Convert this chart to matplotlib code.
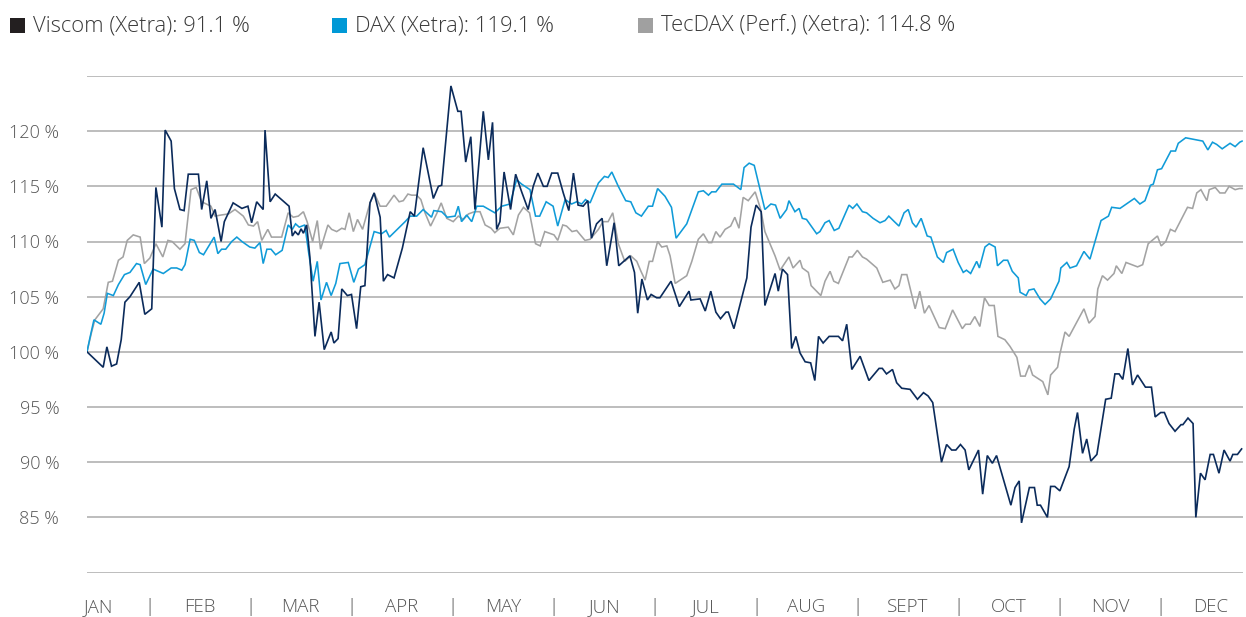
import numpy as np
import matplotlib
matplotlib.use("Agg")
import matplotlib.pyplot as plt
from matplotlib.patches import Rectangle
from matplotlib.transforms import blended_transform_factory

plt.rcParams['font.family'] = ['Open Sans', 'DejaVu Sans']

# ---------------- data (trading day index, indexed performance in %) ----------------
months = ["JAN", "FEB", "MAR", "APR", "MAY", "JUN", "JUL", "AUG", "SEPT", "OCT", "NOV", "DEC"]
legend_labels = ["Viscom (Xetra): 91.1 %", "DAX (Xetra): 119.1 %", "TecDAX (Perf.) (Xetra): 114.8 %"]
ytick_values = [80, 85, 90, 95, 100, 105, 110, 115, 120, 125]
ytick_labels = ["", "85 %", "90 %", "95 %", "100 %", "105 %", "110 %", "115 %", "120 %", ""]

viscom_day = [0, 3.5, 4.3, 5.3, 6.4, 7.4, 8.2, 9.3, 11.3, 12.5, 14.0, 14.9, 16.2, 16.9, 18.2, 18.9,
              20.1, 21.0, 21.9, 24.1, 24.8, 25.9, 26.8, 27.7, 29.0, 29.7, 31.6, 33.5, 34.8, 35.6,
              36.7, 38.1, 38.5, 39.6, 40.7, 43.7, 44.4, 45.0, 45.7, 46.3, 46.8, 47.5, 48.2, 49.3,
              50.2, 51.3, 52.8, 53.4, 54.3, 55.1, 56.3, 57.2, 58.3, 59.2, 60.1, 61.2, 62.1, 63.4,
              64.1, 65.0, 66.4, 68.2, 69.9, 70.8, 72.7, 74.9, 76.0, 76.7, 78.7, 80.2, 80.9, 81.9,
              83.0, 83.9, 85.7, 86.8, 87.7, 88.6, 89.3, 90.2, 91.6, 92.7, 94.0, 95.4, 96.5, 97.5,
              98.7, 99.5, 100.5, 101.8, 103.0, 104.2, 105.2, 106.2, 107.3, 108.3, 109.1, 110.2,
              111.4, 112.4, 114.0, 115.0, 117.4, 118.4, 119.1, 120.0, 121.2, 122.0, 123.2, 123.9,
              126.3, 128.1, 130.2, 130.6, 132.6, 133.7, 134.9, 136.0, 137.0, 138.2, 138.7, 139.9,
              142.7, 143.6, 144.7, 145.8, 146.6, 148.8, 149.5, 150.4, 151.5, 152.4, 153.3, 154.2,
              155.3, 156.5, 157.4, 158.2, 159.2, 160.5, 162.5, 163.4, 164.3, 165.4, 167.2, 169.1,
              171.3, 172.0, 172.9, 174.2, 175.1, 176.2, 178.0, 179.6, 180.9, 181.9, 182.9, 184.8,
              185.9, 187.0, 187.9, 188.9, 189.9, 190.7, 192.8, 193.7, 194.7, 195.8, 196.7, 199.8,
              200.7, 201.6, 202.1, 203.8, 204.9, 205.5, 206.2, 207.7, 208.4, 209.3, 210.4, 212.4,
              213.5, 214.2, 215.3, 216.2, 217.1, 218.4, 220.3, 221.5, 222.3, 223.2, 224.0, 225.1,
              226.1, 227.2, 228.9, 230.2, 231.0, 232.2, 233.0, 234.0, 235.3, 236.6, 237.0, 238.1,
              239.2, 239.8, 240.8, 241.8, 242.9, 243.6, 244.8, 245.9, 247.2, 247.8, 248.8, 249.7]
viscom_val = [100.0, 98.6, 100.45, 98.7, 98.9, 101.1, 104.5, 105.0, 106.3, 103.4, 103.9, 114.9, 111.3,
              120.1, 119.1, 114.8, 112.9, 112.8, 116.1, 116.1, 112.9, 115.5, 112.1, 112.9, 110.0,
              111.8, 113.5, 113.0, 113.2, 111.7, 113.6, 112.9, 120.1, 113.6, 114.3, 113.2, 110.5,
              110.9, 110.6, 111.15, 110.75, 111.5, 108.6, 101.4, 104.5, 100.2, 101.8, 100.8, 101.2,
              105.7, 105.1, 105.2, 102.1, 105.9, 106.0, 113.5, 114.4, 112.2, 106.4, 107.0, 106.7,
              109.4, 112.7, 112.3, 118.5, 113.9, 115.0, 115.1, 124.1, 121.8, 121.8, 117.2, 119.5,
              112.9, 121.8, 117.4, 120.8, 111.1, 111.8, 116.3, 112.9, 116.1, 114.5, 112.9, 115.0,
              116.2, 115.0, 115.0, 116.2, 116.2, 114.4, 112.8, 116.2, 113.3, 113.2, 113.7, 110.3,
              111.6, 112.1, 107.8, 111.7, 107.8, 108.7, 107.2, 103.5, 106.6, 104.7, 105.2, 104.9,
              104.9, 106.4, 104.1, 105.5, 104.7, 104.8, 103.7, 105.5, 103.6, 103.0, 103.6, 103.6,
              102.1, 106.7, 111.3, 113.3, 112.7, 104.2, 107.1, 105.5, 107.5, 107.0, 100.3, 101.4,
              99.9, 99.1, 99.0, 97.4, 101.4, 100.8, 101.4, 101.4, 101.0, 102.5, 98.4, 99.6, 97.4,
              98.5, 98.5, 98.0, 98.4, 97.2, 96.7, 96.6, 95.7, 96.3, 96.0, 95.4, 90.0, 91.6, 91.1,
              91.1, 91.6, 91.1, 89.3, 91.1, 87.1, 90.6, 89.9, 90.6, 86.1, 87.7, 88.3, 84.5, 87.7,
              87.7, 86.1, 86.1, 85.0, 87.8, 87.8, 87.4, 89.6, 93.0, 94.5, 90.8, 92.1, 90.1, 90.7,
              95.7, 95.8, 98.0, 98.0, 97.5, 100.3, 97.0, 97.9, 96.8, 96.8, 94.1, 94.5, 94.5, 93.5,
              92.8, 93.4, 93.4, 94.0, 93.5, 85.0, 89.0, 88.4, 90.7, 90.7, 89.0, 91.1, 90.1, 90.7,
              90.7, 91.2]

dax_day = [0, 0.6, 1.5, 3.0, 3.7, 4.4, 5.7, 6.8, 8.1, 9.3, 10.7, 11.5, 12.7, 14.3, 16.5, 18.2, 19.4,
           20.5, 21.2, 22.3, 23.2, 24.3, 25.2, 27.5, 28.3, 29.1, 30.0, 31.3, 32.4, 33.5, 35.2, 36.3,
           37.4, 38.1, 38.9, 39.8, 40.8, 42.2, 43.5, 44.4, 45.1, 45.9, 47.1, 48.0, 48.9, 49.8, 50.6,
           51.8, 52.8, 53.8, 54.7, 56.5, 57.7, 58.7, 60.1, 62.1, 63.7, 64.7, 65.4, 68.8, 69.9, 71.3,
           72.7, 74.5, 75.0, 76.7, 77.9, 79.6, 80.3, 81.0, 82.1, 83.2, 84.3, 85.7, 88.2, 89.7, 91.5,
           92.9, 94.0, 95.8, 97.0, 97.9, 99.3, 100.8, 101.8, 103.4, 104.8, 105.9, 107.0, 107.8,
           108.8, 110.6, 111.9, 112.7, 113.5, 114.9, 116.5, 117.6, 118.7, 119.9, 121.4, 122.3,
           123.4, 125.0, 126.4, 127.4, 129.7, 132.2, 133.3, 134.4, 135.1, 136.0, 137.3, 138.7,
           139.8, 141.4, 142.1, 143.2, 144.3, 146.6, 147.9, 148.9, 149.9, 151.3, 151.8, 153.1,
           154.0, 154.7, 155.6, 157.8, 158.5, 159.6, 160.5, 161.6, 162.6, 164.8, 165.6, 166.5,
           167.7, 168.6, 170.0, 171.5, 172.6, 173.4, 174.6, 175.6, 176.7, 177.6, 178.5, 179.3,
           180.4, 181.7, 182.5, 183.9, 185.2, 185.9, 187.3, 188.4, 189.5, 190.2, 191.1, 192.4,
           193.0, 194.2, 195.1, 196.4, 196.9, 198.2, 199.1, 200.1, 201.4, 201.8, 203.1, 203.7,
           204.8, 206.1, 207.2, 208.4, 210.2, 210.6, 211.9, 212.6, 214.0, 215.6, 216.9, 219.3,
           220.9, 221.6, 223.4, 226.5, 227.7, 228.8, 230.0, 230.6, 231.5, 232.4, 234.4, 235.4,
           236.0, 237.6, 241.3, 242.4, 243.4, 244.3, 245.5, 247.2, 248.3, 249.3, 249.8]
dax_val = [100.0, 101.2, 102.9, 102.5, 103.5, 105.3, 105.1, 106.1, 107.0, 107.2, 108.0, 107.9, 106.1,
           107.5, 107.1, 107.6, 107.6, 107.4, 107.9, 110.2, 110.1, 109.0, 108.8, 110.4, 108.9, 109.3,
           109.3, 110.0, 110.4, 110.0, 109.5, 109.4, 109.9, 108.0, 109.3, 109.3, 108.8, 109.2, 111.5,
           111.1, 111.6, 111.3, 111.5, 108.8, 106.4, 108.2, 104.7, 106.3, 105.1, 106.2, 108.0, 108.1,
           106.3, 107.5, 107.9, 110.9, 110.7, 111.0, 110.4, 111.8, 112.3, 112.3, 112.9, 112.2, 112.8,
           112.7, 112.2, 112.3, 113.2, 111.8, 112.4, 111.8, 113.2, 113.2, 112.6, 113.2, 113.4, 115.6,
           115.2, 114.7, 112.3, 112.3, 113.6, 113.2, 111.4, 113.8, 113.4, 113.6, 113.4, 113.8, 113.5,
           115.3, 115.9, 115.8, 116.3, 115.0, 113.7, 113.6, 112.6, 112.3, 113.2, 113.2, 114.8, 114.1,
           113.1, 110.3, 111.6, 114.5, 114.6, 114.2, 114.5, 114.5, 115.2, 115.2, 115.2, 114.7, 116.7,
           117.1, 116.9, 112.9, 113.4, 113.3, 112.1, 112.9, 113.7, 112.7, 113.0, 112.1, 112.0, 110.7,
           110.9, 111.7, 111.9, 111.0, 111.2, 113.3, 113.0, 113.4, 112.7, 112.6, 112.1, 111.7, 111.9,
           112.3, 111.8, 111.4, 112.6, 112.9, 111.7, 111.3, 112.1, 110.5, 110.4, 108.6, 108.1, 109.0,
           109.3, 108.1, 107.2, 107.4, 107.1, 108.2, 107.6, 109.5, 109.8, 109.5, 107.8, 108.3, 108.3,
           107.3, 106.7, 105.4, 105.1, 105.6, 105.7, 104.8, 104.3, 104.8, 106.4, 107.6, 108.1, 107.6,
           107.8, 109.1, 108.4, 111.9, 112.3, 113.1, 113.0, 113.9, 113.4, 113.7, 115.1, 115.2, 116.5,
           116.6, 118.2, 118.2, 118.9, 119.4, 119.1, 118.3, 119.0, 118.8, 118.4, 118.9, 118.6, 119.0,
           119.1]

tecdax_day = [0, 1.0, 1.7, 3.5, 4.6, 5.5, 6.8, 7.8, 8.7, 10.0, 11.5, 12.4, 13.6, 14.9, 16.4, 17.5,
              18.4, 20.1, 21.2, 22.5, 23.6, 24.8, 26.8, 27.7, 29.0, 30.6, 32.0, 33.8, 34.9, 36.0,
              36.9, 37.8, 39.1, 39.9, 42.1, 43.5, 44.6, 45.7, 46.8, 47.6, 48.8, 49.8, 50.5, 52.1,
              52.9, 54.0, 55.1, 55.8, 56.7, 57.6, 58.5, 59.6, 61.2, 62.1, 63.4, 64.7, 66.4, 67.5,
              68.4, 69.4, 70.2, 71.3, 72.2, 73.1, 74.3, 75.6, 76.6, 77.8, 79.2, 80.3, 81.4, 82.5,
              83.8, 85.0, 86.1, 87.4, 88.2, 89.3, 91.1, 92.2, 93.3, 94.4, 95.7, 97.0, 98.0, 99.0,
              101.0, 101.8, 102.9, 103.7, 104.9, 105.9, 107.7, 108.8, 110.6, 111.6, 112.7, 113.7,
              114.9, 116.3, 117.6, 118.9, 119.8, 120.7, 121.6, 122.3, 123.4, 124.3, 125.4, 126.1,
              127.2, 129.7, 130.8, 132.2, 133.3, 134.4, 135.1, 136.0, 136.9, 138.0, 139.2, 140.1,
              141.0, 141.9, 143.0, 144.5, 145.7, 146.6, 148.8, 149.9, 151.8, 152.7, 154.2, 154.7,
              156.0, 156.6, 158.7, 159.6, 160.7, 161.5, 162.5, 164.8, 165.5, 166.6, 167.7, 168.6,
              170.8, 172.1, 173.7, 174.7, 175.6, 176.2, 177.3, 179.1, 180.1, 181.1, 182.1, 184.3,
              185.6, 187.2, 189.3, 190.0, 191.0, 192.0, 193.1, 194.1, 195.1, 196.2, 197.0, 198.5,
              199.6, 201.1, 201.9, 202.9, 203.8, 204.5, 206.7, 207.8, 208.4, 209.9, 210.4, 211.5,
              212.4, 215.6, 216.7, 218.0, 218.6, 219.6, 220.7, 222.1, 222.6, 223.8, 224.7, 227.2,
              228.3, 229.5, 231.5, 232.3, 233.3, 234.3, 235.3, 238.0, 239.1, 240.0, 240.9, 242.2,
              242.7, 244.0, 245.0, 246.1, 247.0, 248.3, 249.2, 249.8]
tecdax_val = [100.0, 101.8, 102.9, 103.9, 106.3, 106.4, 108.3, 108.6, 110.1, 110.6, 110.4, 108.0,
              108.5, 109.8, 108.6, 110.1, 110.0, 109.3, 109.8, 114.7, 114.9, 113.6, 113.2, 112.3,
              112.4, 112.5, 112.9, 112.3, 111.5, 111.4, 111.8, 110.1, 111.1, 110.4, 110.4, 112.6,
              112.2, 112.3, 112.7, 111.8, 110.0, 111.9, 109.3, 111.5, 111.1, 110.9, 111.2, 111.1,
              112.6, 110.9, 112.0, 111.1, 113.5, 114.4, 113.2, 113.2, 114.2, 113.6, 113.7, 114.3,
              114.2, 114.2, 113.8, 112.6, 111.4, 112.5, 113.5, 112.1, 111.8, 112.3, 112.0, 112.5,
              112.7, 112.7, 111.5, 111.2, 110.8, 111.2, 111.3, 110.6, 112.4, 113.1, 112.6, 109.8,
              109.6, 110.9, 110.6, 110.1, 111.5, 111.4, 110.9, 111.0, 110.1, 110.2, 111.1, 111.8,
              111.8, 112.6, 109.8, 108.2, 108.7, 108.2, 107.3, 106.5, 108.2, 108.2, 110.0, 109.5,
              109.6, 108.7, 106.2, 106.9, 108.2, 110.2, 110.7, 109.9, 109.9, 110.9, 110.4, 111.1,
              111.4, 112.2, 111.2, 114.0, 113.7, 114.5, 112.9, 110.9, 108.7, 107.4, 108.6, 107.6,
              108.3, 107.6, 107.2, 106.0, 105.1, 106.4, 107.3, 106.4, 106.2, 108.6, 108.6, 109.2,
              108.6, 108.4, 107.6, 106.3, 106.5, 105.7, 106.0, 107.0, 107.0, 103.9, 105.5, 103.5,
              104.2, 102.2, 102.1, 103.8, 102.1, 102.5, 102.5, 103.2, 102.3, 104.9, 104.2, 104.2,
              101.4, 101.1, 100.5, 99.5, 97.8, 97.8, 98.8, 97.9, 97.3, 96.1, 97.9, 98.6, 99.8, 101.8,
              101.4, 103.9, 102.6, 103.2, 105.7, 106.9, 106.5, 107.1, 107.8, 107.1, 108.1, 107.7,
              107.9, 109.8, 110.5, 109.6, 110.0, 111.1, 110.9, 113.1, 113.0, 114.4, 114.7, 113.7,
              114.7, 114.9, 114.4, 114.4, 115.0, 114.7, 114.8, 114.8]

# ---------------- styling ----------------
C_VISCOM = "#0b2b5b"
C_DAX = "#109bd8"
C_TEC = "#a3a3a3"
C_GRID = "#b2b2b2"
C_TEXT = "#555555"

W, H = 1246, 617
fig = plt.figure(figsize=(W / 100, H / 100), dpi=100)
x0, x1 = 87, 1243
ytop, ybot = 76, 572.5
ax = fig.add_axes([x0 / W, 1 - ybot / H, (x1 - x0) / W, (ybot - ytop) / H])

ax.plot(tecdax_day, tecdax_val, color=C_TEC, lw=1.15, zorder=3, solid_joinstyle="miter")
ax.plot(dax_day, dax_val, color=C_DAX, lw=1.15, zorder=4, solid_joinstyle="miter")
ax.plot(viscom_day, viscom_val, color=C_VISCOM, lw=1.2, zorder=5, solid_joinstyle="miter")

ax.set_xlim(0, 250)
ax.set_ylim(80, 125)
ax.set_yticks(ytick_values)
ax.set_yticklabels(ytick_labels, fontweight="light")
ax.set_xticks([])
ax.tick_params(axis="y", length=0, pad=20, labelsize=13, labelcolor=C_TEXT)
ax.grid(axis="y", color=C_GRID, lw=1.2, zorder=1)
ax.set_axisbelow(True)
for s in ax.spines.values():
    s.set_visible(False)
ax.set_facecolor("none")

# month labels and separators
trans = blended_transform_factory(ax.transData, ax.transAxes)
lab_first, lab_last = 2.5, 243.1
pos = np.linspace(lab_first, lab_last, len(months))
y_lab = -(607 - ybot) / (ybot - ytop)
for p, m in zip(pos, months):
    ax.text(p, y_lab, m, transform=trans, ha="center", va="center", fontsize=13.5,
            color=C_TEXT, fontweight="light")
for a, b in zip(pos[:-1], pos[1:]):
    ax.text((a + b) / 2, y_lab, "|", transform=trans, ha="center", va="center", fontsize=13.5,
            color=C_TEXT, fontweight="light")

# legend
leg_colors = ["#231f20", "#0099d6", "#a0a0a0"]
leg_x = [10, 332, 638]
for lx, col, lab in zip(leg_x, leg_colors, legend_labels):
    fig.add_artist(Rectangle((lx / W, 1 - 33 / H), 15 / W, 15 / H, transform=fig.transFigure,
                             facecolor=col, edgecolor="none"))
    fig.text((lx + 23) / W, 1 - 26 / H, lab, ha="left", va="center", fontsize=15.8,
             color="#3a3a3a", fontweight="light")

fig.savefig("out.png", dpi=100)
